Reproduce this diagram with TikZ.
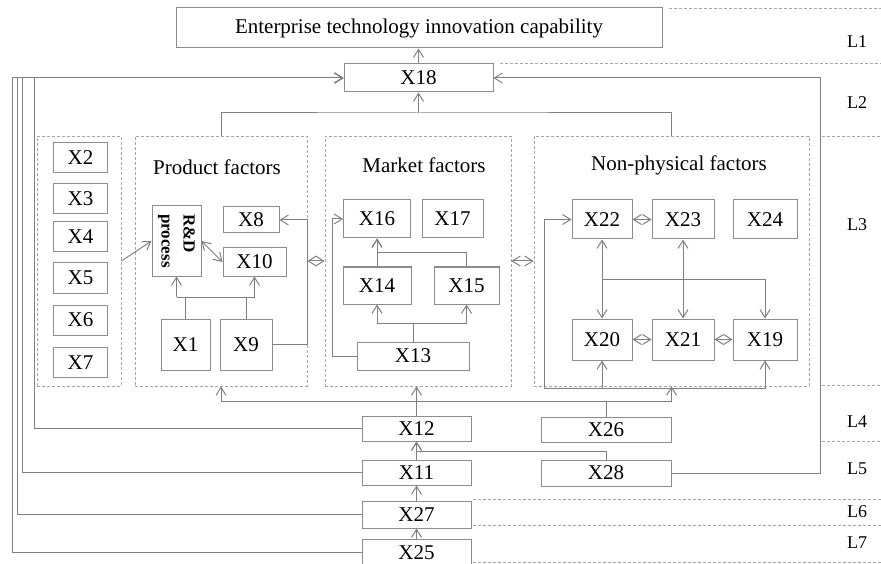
\documentclass[tikz,border=0pt]{standalone}
\usepackage{fontspec}
\setmainfont{Liberation Serif}
\usetikzlibrary{arrows.meta,calc}
\begin{document}
\begin{tikzpicture}[x=1pt,y=-1pt]
	\tikzset{>={Straight Barb[length=8pt,width=10pt]}}
	\tikzset{box/.style={draw=gray!90,line width=1pt,inner sep=0pt,font=\fontsize{21}{24}\selectfont},
		sz/.style 2 args={minimum width=#1,minimum height=#2},
		grp/.style={draw=gray!70,dash pattern=on 3pt off 2pt,line width=0.8pt,inner sep=0pt},
		lnk/.style={gray,line width=1pt},
		sep/.style={gray!70,dash pattern=on 3pt off 2pt,line width=0.8pt},
		lvl/.style={font=\fontsize{18}{20}\selectfont}}
	\useasboundingbox (0,0) rectangle (881,564);
	
	% levels
	\draw[sep] (669,8) -- (881,8);
	\draw[sep] (500,63) -- (881,63);
	\draw[sep] (822,136) -- (881,136);
	\draw[sep] (822,385) -- (881,385);
	\draw[sep] (822,441) -- (881,441);
	\draw[sep] (473,499) -- (881,499);
	\draw[sep] (473,525) -- (881,525);
	\draw[sep] (473,562) -- (881,562);
	\foreach \l/\y in {L1/42,L2/103,L3/225,L4/422,L5/469,L6/512,L7/543}
	\node[lvl] (\l) at (857,\y) {\l};
	
	\node[box,sz={486}{40}] (top) at (419,28) {Enterprise technology innovation capability};
	\node[box,sz={149}{28}] (x18) at (418.5,78) {X18};
	
	% groups
	\node[grp,sz={84}{250}] (gleft) at (79,261) {};
	\node[grp,sz={172}{250}] (gprod) at (221,261) {};
	\node[grp,sz={186}{250}] (gmkt) at (418,261) {};
	\node[grp,sz={275}{250}] (gnon) at (671.5,261) {};
	\node[box,draw=none] (tprod) at (217,167) {Product factors};
	\node[box,draw=none] (tmkt) at (424,165) {Market factors};
	\node[box,draw=none] (tnon) at (679,165) {Non-physical factors};
	
	\foreach \n/\y in {2/157.5,3/199,4/237,5/278,6/320,7/362.5}
	\node[box,sz={54}{30}] (x\n) at (80.5,\y) {X\n};
	
	% product
	\node[box,sz={49}{70}] (rd) at (176.5,241) {};
	\node[rotate=-90,align=left,inner sep=0pt,font=\bfseries\fontsize{17}{22}\selectfont] (rdt) at (rd) {R\&D\\process};
	\node[box,sz={56}{26}] (x8) at (251,220) {X8};
	\node[box,sz={63}{28}] (x10) at (254.5,262) {X10};
	\node[box,sz={49}{51}] (x1) at (185.5,344.5) {X1};
	\node[box,sz={52}{51}] (x9) at (246,344.5) {X9};
	
	% market
	\node[box,sz={67}{38}] (x16) at (377,219) {X16};
	\node[box,sz={61}{38}] (x17) at (452.5,219) {X17};
	\node[box,sz={68}{37}] (x14) at (377,285.5) {X14};
	\node[box,sz={65}{37}] (x15) at (466.5,285.5) {X15};
	\node[box,sz={112}{28}] (x13) at (413,356) {X13};
	
	% non-physical
	\node[box,sz={60}{39}] (x22) at (602,219.5) {X22};
	\node[box,sz={62}{39}] (x23) at (683,219.5) {X23};
	\node[box,sz={64}{39}] (x24) at (765,219.5) {X24};
	\node[box,sz={60}{41}] (x20) at (602,339.5) {X20};
	\node[box,sz={62}{41}] (x21) at (683,339.5) {X21};
	\node[box,sz={64}{41}] (x19) at (765,339.5) {X19};
	
	% bottom
	\node[box,sz={109}{25}] (x12) at (416.5,428.5) {X12};
	\node[box,sz={109}{25}] (x11) at (416.5,472.5) {X11};
	\node[box,sz={109}{27}] (x27) at (416.5,514.5) {X27};
	\node[box,sz={109}{27}] (x25) at (416.5,552.5) {X25};
	\node[box,sz={130}{25}] (x26) at (606,429.5) {X26};
	\node[box,sz={130}{26}] (x28) at (606,473) {X28};
	
	\coordinate (j2) at (418.5,113);
	\coordinate (j4) at (416.5,401);
	\coordinate (bl) at (544,388);
	\coordinate (p1) at (176.5,297);
	\coordinate (m1) at (413,323);
	
	% links
	\draw[lnk,->] (x18.north) -- (x18.north |- top.south);
	\draw[lnk] (gprod.north) |- (j2) -| (gnon.north);
	\draw[lnk,->] (j2) -- (x18.south);
	\foreach \n/\r in {x12/34,x11/22,x27/17,x25/12}
	\draw[lnk,->] (\n.west) -| (\r,78) -- (x18.west);
	\draw[lnk,->] (x28.east) -| (820,78) -- (x18.east);
	\draw[lnk,->] (x25) -- (x27);
	\draw[lnk,->] (x27) -- (x11);
	\draw[lnk,->] (x11) -- (x12);
	\draw[lnk,->] (x28.north) |- (x12.south |- 0,451) -- (x12.south);
	\draw[lnk,->] (x12.north) -- (x12.north |- gmkt.south);
	\draw[lnk,->] (j4) -| (gprod.south);
	\draw[lnk,->] (j4) -| (gnon.south);
	\draw[lnk] (x26.north) -- (x26.north |- j4);
	
	\draw[lnk,->] (bl) |- (x22.west);
	\draw[lnk,->] (bl) -| (x19.south);
	\draw[lnk,->] (x20.south |- bl) -- (x20.south);
	\draw[lnk,<->] (x22) -- (x23);
	\draw[lnk,<->] (x20) -- (x21);
	\draw[lnk,<->] (x21) -- (x19);
	\draw[lnk,<->] (x22) -- (x20);
	\draw[lnk,<->] (x23) -- (x21);
	\draw[lnk,->] ($(x22.south)!.5!(x20.north)$) -| (x19.north);
	
	\draw[lnk] (x13.north) -- (m1);
	\draw[lnk,->] (m1) -| (x14.south);
	\draw[lnk,->] (m1) -| (x15.south);
	\draw[lnk,->] (x14) -- (x16);
	\draw[lnk,->] (x15.north) |- ($(x14.north)!.5!(x16.south)$) -- (x16.south);
	\draw[lnk,->] (x13.west) -- ++(-24,0) |- (x16.west);
	
	\draw[lnk] (x1.north) -- (x1.north |- p1);
	\draw[lnk] (x9.north) -- (x9.north |- p1);
	\draw[lnk,->] (p1) -- (rd.south);
	\draw[lnk,->] (p1) -| (x10.south);
	\draw[lnk,->] (x9.east) -| (gprod.east |- x8) -- (x8.east);
	\draw[lnk,->] (gleft.east) -- (rd.west);
	\draw[lnk,<->] (rd.east) -- (x10.west);
	
	\draw[lnk,<->] (gprod.east) -- (gmkt.west);
	\draw[lnk,<->] (gmkt.east) -- (gnon.west);
	
\end{tikzpicture}
\end{document}
